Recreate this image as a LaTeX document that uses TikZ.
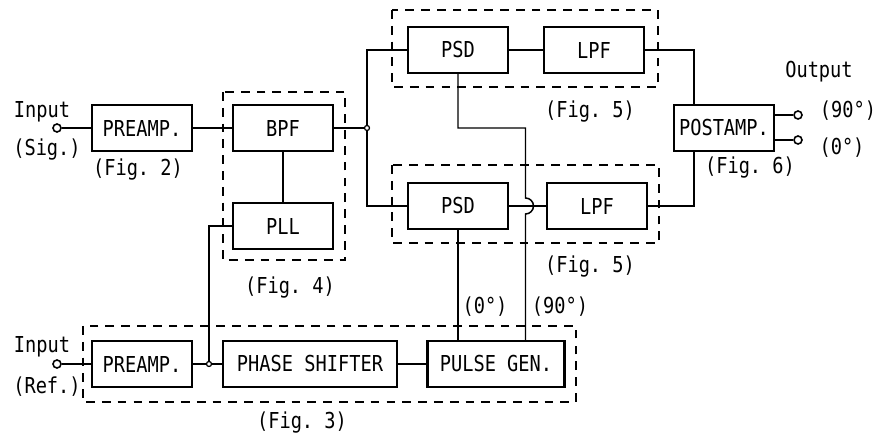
\documentclass[tikz,border=0pt]{standalone}
\usepackage{fontspec}
\setmonofont[FakeStretch=0.85]{DejaVu Sans Mono}
\usetikzlibrary{calc}

\begin{document}
\begin{tikzpicture}[x=0.02cm,y=-0.02cm,font=\ttfamily\fontsize{12.5}{14}\selectfont,
    block/.style={draw,line width=1.3pt,minimum width=2cm,minimum height=0.92cm,inner sep=0pt},
    group/.style={draw,line width=0.75pt,dash pattern=on 5pt off 4pt},
    link/.style={line width=0.85pt},
    term/.style={circle,draw,line width=0.9pt,fill=white,minimum size=0.16cm,inner sep=0pt},
    junction/.style={circle,draw,line width=0.7pt,fill=white,minimum size=0.1cm,inner sep=0pt},
    lbl/.style={inner sep=0pt}]
      \useasboundingbox (0,0) rectangle (877,439);

      \draw[group] (223,92) rectangle (345,260);
      \draw[group] (392,10) rectangle (658,87);
      \draw[group] (392,165) rectangle (659,243);
      \draw[group] (83,326) rectangle (576,402);

      \node[block] (preamp sig) at (142,128) {PREAMP.};
      \node[block] (bpf) at (283,128) {BPF};
      \node[block] (pll) at (283,226) {PLL};
      \node[block] (psd top) at (458,50) {PSD};
      \node[block] (lpf top) at (594,50) {LPF};
      \node[block] (psd bottom) at (458,206) {PSD};
      \node[block] (lpf bottom) at (597,206) {LPF};
      \node[block] (postamp) at (724,128) {POSTAMP.};
      \node[block] (preamp ref) at (142,364) {PREAMP.};
      \node[block,minimum width=3.48cm] (shifter) at (310,364) {PHASE SHIFTER};
      \node[block,minimum width=2.74cm] (pulse gen) at (496,364) {PULSE GEN.};

      \node[term] (sig in) at (57,128) {};
      \node[term] (ref in) at (57,364) {};
      \node[term] (out 90) at (798,115) {};
      \node[term] (out 0) at (798,140) {};
      \coordinate (split sig) at (367,128);
      \coordinate (split ref) at (209,364);
      \coordinate (bend) at (525.5,128);

      \node[lbl] at (42,112) {Input};
      \node[lbl] at (47,150) {(Sig.)};
      \node[lbl] at (42,347) {Input};
      \node[lbl] at (47,387) {(Ref.)};
      \node[lbl] at (819,72) {Output};
      \node[lbl] at (848,111) {(90°)};
      \node[lbl] at (842,148) {(0°)};
      \node[lbl] at (485,307) {(0°)};
      \node[lbl] at (560,307) {(90°)};
      \node[lbl] at (138,170) {(Fig. 2)};
      \node[lbl] at (290,288) {(Fig. 4)};
      \node[lbl] at (590,112) {(Fig. 5)};
      \node[lbl] at (590,267) {(Fig. 5)};
      \node[lbl] at (750,168) {(Fig. 6)};
      \node[lbl] at (302,423) {(Fig. 3)};

      \draw[link] (sig in) -- (preamp sig);
      \draw[link] (preamp sig) -- (bpf);
      \draw[link] (bpf) -- (split sig);
      \draw[link] (bpf) -- (pll);
      \draw[link] (split sig) |- (psd top);
      \draw[link] (split sig) |- (psd bottom);
      \draw[link] (psd top) -- (lpf top);
      \draw[link] (psd bottom) -- (lpf bottom);
      \draw[link] (lpf top) -| ($ (postamp.north west) + (21,0) $);
      \draw[link] (lpf bottom) -| ($ (postamp.south west) + (21,0) $);
      \draw[link] (postamp.east |- out 90) -- (out 90);
      \draw[link] (postamp.east |- out 0) -- (out 0);

      \draw[link] (ref in) -- (preamp ref);
      \draw[link] (preamp ref) -- (shifter);
      \draw[link] (shifter) -- (pulse gen);
      \draw[link] (split ref) |- (pll);
      \draw[link] (psd bottom.south) -- (psd bottom.south |- pulse gen.north);
      \draw[link] (psd top.south) |- (bend) -- ($ (bend |- psd bottom) + (0,-8) $)
        arc[start angle=90,end angle=-90,radius=0.16cm] -- (bend |- pulse gen.north);

      \node[junction] at (split sig) {};
      \node[junction] at (split ref) {};
    \end{tikzpicture}
\end{document}
